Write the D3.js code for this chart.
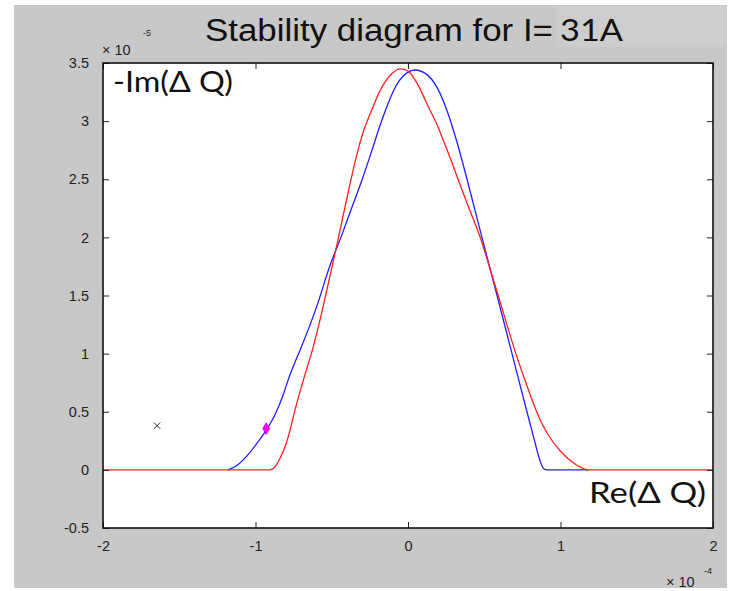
<!DOCTYPE html>
<html><head><meta charset="utf-8">
<script src="https://cdn.jsdelivr.net/npm/d3@7"></script>
<style>html,body{margin:0;padding:0;background:#fff;}svg{display:block;}</style>
</head><body>
<script>
// ---- data (x in units of 1e-4, y in units of 1e-5) ----
const xTicks = [-2, -1, 0, 1, 2];
const xTickLabels = ["-2", "-1", "0", "1", "2"];
const yTicks = [-0.5, 0, 0.5, 1, 1.5, 2, 2.5, 3, 3.5];
const yTickLabels = ["-0.5", "0", "0.5", "1", "1.5", "2", "2.5", "3", "3.5"];

const blueX = [-1.18, -1.12, -1.056, -0.99, -0.925, -0.87, -0.82, -0.787, -0.74, -0.708, -0.6, -0.511, -0.44, -0.37, -0.30, -0.236, -0.184, -0.131, -0.08, -0.03, 0.046, 0.125, 0.19, 0.256, 0.321, 0.387, 0.485, 0.584, 0.682, 0.78, 0.83, 0.865, 0.89, 0.91, 1.18];
const blueY = [0, 0.04, 0.12, 0.23, 0.35, 0.48, 0.64, 0.77, 0.93, 1.03, 1.4, 1.76, 2.0, 2.25, 2.5, 2.75, 2.96, 3.15, 3.3, 3.39, 3.44, 3.40, 3.29, 3.09, 2.82, 2.5, 2.0, 1.5, 1.0, 0.5, 0.25, 0.08, 0.01, 0, 0];

const redX = [-2, -0.905, -0.87, -0.839, -0.80, -0.774, -0.734, -0.68, -0.623, -0.54, -0.459, -0.387, -0.334, -0.295, -0.236, -0.184, -0.105, -0.052, 0.0, 0.066, 0.131, 0.19, 0.23, 0.289, 0.328, 0.40, 0.479, 0.54, 0.603, 0.66, 0.715, 0.77, 0.82, 0.87, 0.92, 1.0, 1.095, 1.15, 1.18, 2];
const redY = [0, 0, 0.03, 0.10, 0.22, 0.34, 0.55, 0.8, 1.05, 1.5, 1.98, 2.42, 2.72, 2.9, 3.1, 3.26, 3.41, 3.45, 3.43, 3.31, 3.13, 2.97, 2.84, 2.64, 2.5, 2.25, 1.98, 1.72, 1.45, 1.2, 0.97, 0.76, 0.58, 0.42, 0.3, 0.16, 0.05, 0.01, 0, 0];

const crossPoint = [-1.645, 0.38];
const diamondPoint = [-0.93, 0.355];

const titleMain = "Stability diagram for I=";
const titleValue = "31A";
const yLabel = "-Im(\u0394 Q)";
const xLabel = "Re(\u0394 Q)";

// ---- layout ----
const W = 729, H = 591;
const plot = {left: 103, right: 713, top: 63, bottom: 528};

const svg = d3.select("body").append("svg").attr("width", W).attr("height", H);

svg.append("rect").attr("x", 14).attr("y", 5).attr("width", 713).attr("height", 583).attr("fill", "#c8c8c8");
svg.append("rect").attr("x", 556).attr("y", 6).attr("width", 171).attr("height", 41).attr("fill", "#cdcdcd");

const x = d3.scaleLinear().domain([-2, 2]).range([plot.left, plot.right]);
const y = d3.scaleLinear().domain([-0.5, 3.5]).range([plot.bottom, plot.top]);

svg.append("rect").attr("x", plot.left).attr("y", plot.top)
  .attr("width", plot.right - plot.left).attr("height", plot.bottom - plot.top).attr("fill", "#fff");

const line = d3.line().x(d => x(d[0])).y(d => y(d[1])).curve(d3.curveMonotoneX);
const blue = blueX.map((v, i) => [v, blueY[i]]);
const red = redX.map((v, i) => [v, redY[i]]);

svg.append("path").attr("d", line(blue)).attr("fill", "none").attr("stroke", "#1f1fff").attr("stroke-width", 1.3);
svg.append("path").attr("d", line(red)).attr("fill", "none").attr("stroke", "#ff1f1f").attr("stroke-width", 1.3);

// markers
svg.append("path").attr("d", d3.symbol(d3.symbolTimes, 28)())
  .attr("transform", `translate(${x(crossPoint[0])},${y(crossPoint[1])})`)
  .attr("fill", "none").attr("stroke", "#333").attr("stroke-width", 1);
svg.append("path").attr("d", d3.symbol(d3.symbolDiamond, 40)())
  .attr("transform", `translate(${x(diamondPoint[0])},${y(diamondPoint[1])})`)
  .attr("fill", "#ff00ff").attr("stroke", "#c000ff").attr("stroke-width", 0.8);

// axes
const tickFont = "'Liberation Sans', Arial, sans-serif";
function styleAxis(g, showLabels) {
  g.select(".domain").remove();
  g.selectAll(".tick line").attr("stroke", "#222").attr("stroke-width", 1);
  g.selectAll(".tick text").attr("font-family", tickFont).attr("font-size", 14.5).attr("fill", "#222");
  if (!showLabels) g.selectAll(".tick text").remove();
}
const gl = svg.append("g").attr("transform", `translate(${plot.left},0)`)
  .call(d3.axisLeft(y).tickValues(yTicks).tickSize(-6).tickPadding(14).tickFormat((d, i) => yTickLabels[i]));
styleAxis(gl, true);
const gr = svg.append("g").attr("transform", `translate(${plot.right},0)`)
  .call(d3.axisRight(y).tickValues(yTicks).tickSize(-6).tickFormat(""));
styleAxis(gr, false);
const gb = svg.append("g").attr("transform", `translate(0,${plot.bottom})`)
  .call(d3.axisBottom(x).tickValues(xTicks).tickSize(-6).tickPadding(13).tickFormat((d, i) => xTickLabels[i]));
styleAxis(gb, true);
const gt = svg.append("g").attr("transform", `translate(0,${plot.top})`)
  .call(d3.axisTop(x).tickValues(xTicks).tickSize(-6).tickFormat(""));
styleAxis(gt, false);

svg.append("rect").attr("x", plot.left).attr("y", plot.top)
  .attr("width", plot.right - plot.left).attr("height", plot.bottom - plot.top)
  .attr("fill", "none").attr("stroke", "#111").attr("stroke-width", 1.6);

// exponent labels
svg.append("text").attr("x", 102).attr("y", 55).attr("font-family", tickFont).attr("font-size", 14.5).attr("fill", "#222").text("\u00d7 10");
svg.append("text").attr("x", 143).attr("y", 36).attr("font-family", tickFont).attr("font-size", 9).attr("fill", "#222").text("-5");
svg.append("text").attr("x", 666).attr("y", 587).attr("font-family", tickFont).attr("font-size", 14.5).attr("fill", "#222").text("\u00d7 10");
svg.append("text").attr("x", 704).attr("y", 574).attr("font-family", tickFont).attr("font-size", 9).attr("fill", "#222").text("-4");

// title
svg.append("text").attr("x", 205).attr("y", 41).attr("font-family", "'Liberation Sans Narrow', 'Liberation Sans', Arial, sans-serif")
  .attr("font-size", 31).attr("fill", "#111").attr("textLength", 348).attr("lengthAdjust", "spacingAndGlyphs").text(titleMain);
svg.append("text").attr("x", 560).attr("y", 41).attr("font-family", "Lato, 'Open Sans', sans-serif")
  .attr("font-size", 31).attr("fill", "#111").attr("textLength", 63).attr("lengthAdjust", "spacingAndGlyphs").text(titleValue);

// axis labels inside plot
svg.append("text").attr("x", 113).attr("y", 92).attr("font-family", "Lato, 'Open Sans', sans-serif")
  .attr("font-size", 28).attr("fill", "#111").attr("textLength", 120).attr("lengthAdjust", "spacingAndGlyphs").text(yLabel);
svg.append("text").attr("x", 589).attr("y", 503).attr("font-family", "Lato, 'Open Sans', sans-serif")
  .attr("font-size", 28).attr("fill", "#111").attr("textLength", 117).attr("lengthAdjust", "spacingAndGlyphs").text(xLabel);
</script>
</body></html>
